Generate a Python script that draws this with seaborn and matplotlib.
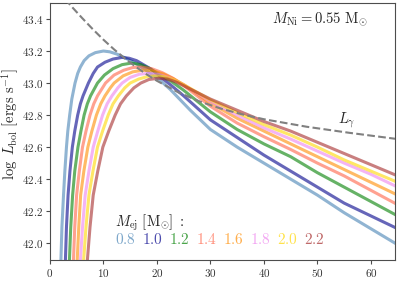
import matplotlib
matplotlib.use("Agg")
import matplotlib.pyplot as plt
import numpy as np
import pandas as pd
import seaborn as sns
from matplotlib.ticker import FuncFormatter, MultipleLocator

# ejecta masses and the bolometric light curves (days, log L)
m_ej = ["0.8", "1.0", "1.2", "1.4", "1.6", "1.8", "2.0", "2.2"]
colors = ["steelblue", "darkblue", "green", "tomato", "darkorange", "violet", "gold", "brown"]

t_08 = [1.95, 2.06, 2.25, 2.55, 2.8, 3.1, 3.35, 3.7, 4.1, 4.7, 5.2, 5.7, 6.4, 7.3, 8.5, 10.0, 11.2, 12.6,
        14.2, 16.2, 18.4, 20.5, 22.5, 26.25, 30, 35, 40, 45, 50, 55, 60, 65]
L_08 = [41.75, 41.89, 42.1, 42.3, 42.45, 42.6, 42.7, 42.8, 42.9, 43.0, 43.06, 43.1, 43.14, 43.17, 43.19, 43.2,
        43.195, 43.18, 43.155, 43.12, 43.07, 43.02, 42.96, 42.83, 42.71, 42.60, 42.50, 42.40, 42.30, 42.19,
        42.09, 41.99]

t_10 = [2.75, 2.9, 3.1, 3.4, 3.75, 4.2, 4.65, 5.2, 5.7, 6.2, 7.2, 8.1, 8.9, 10.3, 11.8, 13.5, 14.8, 16.2,
        18.75, 22.5, 25, 30, 35, 40, 45, 50, 55, 60, 65]
L_10 = [41.75, 41.89, 42.1, 42.3, 42.45, 42.6, 42.7, 42.8, 42.87, 42.92, 43.0, 43.06, 43.1, 43.13, 43.15,
        43.16, 43.155, 43.14, 43.09, 42.99, 42.92, 42.77, 42.66, 42.55, 42.45, 42.35, 42.25, 42.17, 42.09]

t_12 = [3.5, 3.65, 3.9, 4.25, 4.65, 5.25, 5.8, 6.4, 7.0, 7.6, 8.9, 10.2, 11.8, 13.5, 15.3, 17, 18.7, 20.7,
        22.5, 25, 30, 35, 40, 45, 50, 55, 60, 65]
L_12 = [41.75, 41.89, 42.1, 42.3, 42.45, 42.6, 42.7, 42.8, 42.87, 42.92, 43.0, 43.05, 43.09, 43.115, 43.125,
        43.115, 43.09, 43.05, 43.015, 42.955, 42.82, 42.71, 42.62, 42.54, 42.44, 42.35, 42.26, 42.17]

t_14 = [4.25, 4.4, 4.65, 5.0, 5.5, 6.1, 6.75, 7.5, 8.2, 8.9, 10.4, 12.0, 13.8, 15.5, 17, 19, 21, 23, 25,
        30, 35, 40, 45, 50, 55, 60, 65]
L_14 = [41.75, 41.89, 42.1, 42.3, 42.45, 42.6, 42.7, 42.8, 42.87, 42.92, 43.0, 43.05, 43.08, 43.097, 43.10,
        43.09, 43.065, 43.03, 42.985, 42.855, 42.75, 42.665, 42.585, 42.50, 42.42, 42.33, 42.24]

t_16 = [4.95, 5.1, 5.4, 5.75, 6.35, 7.1, 7.85, 8.7, 9.5, 10.3, 11.3, 12.0, 13.7, 15.5, 17.3, 19.3, 21.3,
        23.2, 25, 30, 35, 40, 45, 50, 55, 60, 65]
L_16 = [41.75, 41.89, 42.1, 42.3, 42.45, 42.6, 42.7, 42.8, 42.87, 42.92, 42.97, 43.0, 43.045, 43.07, 43.08,
        43.075, 43.055, 43.025, 42.99, 42.875, 42.78, 42.70, 42.62, 42.54, 42.46, 42.38, 42.30]

t_18 = [5.55, 5.7, 6.1, 6.6, 7.3, 8.1, 8.95, 9.85, 10.7, 11.6, 12.7, 13.5, 15.0, 16.7, 18.3, 20.2, 22.2,
        25, 30, 35, 40, 45, 50, 55, 60, 65]
L_18 = [41.75, 41.89, 42.1, 42.3, 42.45, 42.6, 42.7, 42.8, 42.87, 42.92, 42.97, 43.0, 43.035, 43.055, 43.06,
        43.055, 43.035, 42.99, 42.885, 42.80, 42.72, 42.65, 42.575, 42.50, 42.43, 42.35]

t_20 = [6.15, 6.3, 6.75, 7.3, 8.05, 8.9, 9.85, 10.9, 11.8, 12.8, 14.0, 15.0, 16.6, 18.2, 19.6, 21.3, 23.2,
        25, 30, 35, 40, 45, 50, 55, 60, 65]
L_20 = [41.75, 41.89, 42.1, 42.3, 42.45, 42.6, 42.7, 42.8, 42.87, 42.92, 42.97, 43.0, 43.025, 43.04, 43.045,
        43.04, 43.02, 42.99, 42.895, 42.815, 42.74, 42.675, 42.60, 42.52, 42.45, 42.38]

t_22 = [6.85, 7.0, 7.5, 8.1, 8.95, 9.9, 11.0, 12.2, 13.2, 14.3, 15.7, 17.0, 18.5, 20.3, 22.0, 23.7, 25.5,
        30, 35, 40, 45, 50, 55, 60, 65]
L_22 = [41.75, 41.89, 42.1, 42.3, 42.45, 42.6, 42.7, 42.8, 42.87, 42.92, 42.97, 43.0, 43.022, 43.03, 43.025,
        43.005, 42.975, 42.90, 42.83, 42.76, 42.70, 42.63, 42.56, 42.49, 42.42]

# gamma-ray deposition curve (dashed)
t_gam = [0, 2, 4, 6, 8, 10, 12, 14, 16, 18, 20, 24, 28, 32, 36, 40, 48, 56, 65]
L_gam = [43.638, 43.558, 43.480, 43.407, 43.337, 43.271, 43.210, 43.154, 43.103, 43.056, 43.014,
         42.942, 42.885, 42.840, 42.804, 42.774, 42.727, 42.689, 42.650]

curves = [(t_08, L_08), (t_10, L_10), (t_12, L_12), (t_14, L_14),
          (t_16, L_16), (t_18, L_18), (t_20, L_20), (t_22, L_22)]

frames = []
for m, (t, L) in zip(m_ej, curves):
    frames.append(pd.DataFrame({"t": t, "logL": L, "mej": m}))
df = pd.concat(frames, ignore_index=True)

sns.set_style("ticks")
plt.rcParams["mathtext.fontset"] = "cm"
plt.rcParams["font.family"] = ["DejaVu Serif"]

fig = plt.figure(figsize=(3.99, 2.99), dpi=100)
ax = fig.add_axes([0.125, 0.13, 0.865, 0.86])

sns.lineplot(data=df, x="t", y="logL", hue="mej", palette=colors, hue_order=m_ej,
             sort=False, estimator=None, lw=2.2, alpha=0.6, legend=False, ax=ax)
sns.lineplot(x=t_gam, y=L_gam, color="0.5", lw=1.5, linestyle="--", sort=False,
             estimator=None, ax=ax, zorder=5)

ax.set_xlim(0, 64.5)
ax.set_ylim(41.894, 43.5)
ax.xaxis.set_major_locator(MultipleLocator(10))
ax.yaxis.set_major_locator(MultipleLocator(0.2))
ax.xaxis.set_major_formatter(FuncFormatter(lambda v, p: f"${v:.0f}$"))
ax.yaxis.set_major_formatter(FuncFormatter(lambda v, p: f"${v:.1f}$"))
ax.tick_params(labelsize=8, length=3, pad=2, color="0.3", labelcolor="0.2")
for s in ax.spines.values():
    s.set_color("0.3")
ax.set_xlabel("")
ax.set_ylabel(r"$\log\ L_{\rm bol}\ [{\rm ergs\ s^{-1}}]$", fontsize=10.5)
ax.yaxis.set_label_coords(-0.085, 0.53)

ax.text(0.92, 0.935, r"$M_{\rm Ni}=0.55\ {\rm M_{\odot}}$", transform=ax.transAxes,
        ha="right", va="center", fontsize=10.5)
ax.text(55.5, 42.77, r"$L_{\gamma}$", ha="center", va="center", fontsize=10.5)
ax.text(12.2, 42.13, r"$M_{\rm ej}\ [{\rm M_{\odot}}]\ :$", ha="left", va="center", fontsize=10.5)
for i, (m, c) in enumerate(zip(m_ej, colors)):
    ax.text(12.2 + 5.05 * i, 42.025, f"${m}$", color=c, alpha=0.7,
            ha="left", va="center", fontsize=11)

fig.savefig("out.png", dpi=100)
